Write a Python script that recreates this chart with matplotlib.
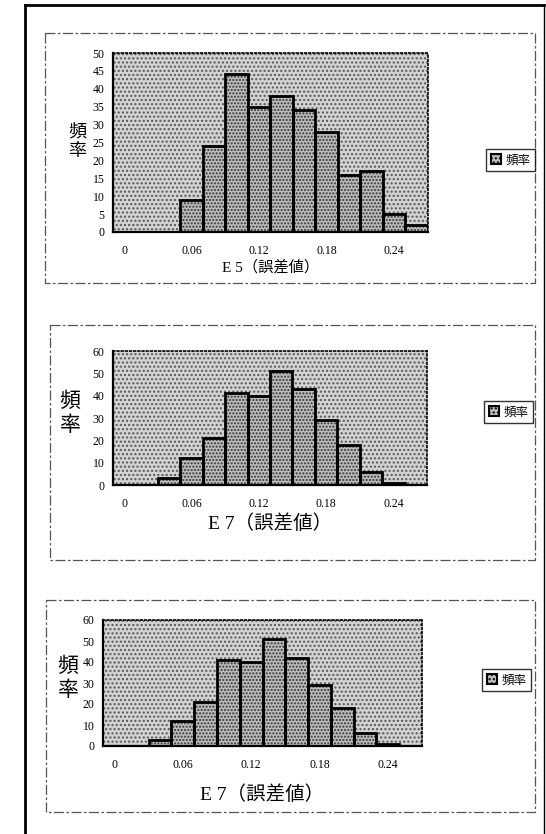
import matplotlib.pyplot as plt
from matplotlib.patches import Rectangle, Patch
from matplotlib.lines import Line2D

W, H = 546, 834

# bins of the histograms (category axis, one bar per bin)
bins = ["0", "0.02", "0.04", "0.06", "0.08", "0.10", "0.12",
        "0.14", "0.16", "0.18", "0.20", "0.22", "0.24", "0.26"]
shown_ticks = ["0", "0.06", "0.12", "0.18", "0.24"]

e5_freq = [0, 0, 0, 9, 24, 44, 35, 38, 34, 28, 16, 17, 5, 2]
e7_freq = [0, 0, 3, 12, 21, 41, 40, 51, 43, 29, 18, 6, 1, 0]
e7b_freq = [0, 0, 3, 12, 21, 41, 40, 51, 42, 29, 18, 6, 1, 0]

ylabel = "頻\n率"
legend_label = "頻率"
xlabels = ["E 5（誤差値）", "E 7（誤差値）", "E 7（誤差値）"]

SERIF = ["Liberation Serif", "Noto Sans CJK JP", "DejaVu Sans"]
CJK = ["Noto Sans CJK JP", "DejaVu Sans"]


def fx(x):
    return x / W


def fy(y):
    return 1 - y / H


def draw_panel(fig, box, freq, ymax, ystep, xlabel, xl_size, ylab_xy, ylab_size, xl_y, leg_xy):
    x0, y0, x1, y1 = box
    ax = fig.add_axes([fx(x0), fy(y1), fx(x1) - fx(x0), (y1 - y0) / H])
    pos = list(range(len(bins)))

    # halftone background of the plot area
    ax.add_patch(Rectangle((0, 0), 1, 1, transform=ax.transAxes, facecolor="#d2d2d2",
                           edgecolor="#555555", hatch="....", linewidth=0, zorder=0))
    ax.bar(pos, freq, width=1.0, facecolor="#bcbcbc", edgecolor="#333333",
           hatch=".....", linewidth=0, zorder=2)
    ax.bar(pos, freq, width=1.0, fill=False, edgecolor="black", linewidth=2, zorder=3)

    ax.set_xlim(-0.5, len(bins) - 0.5)
    ax.set_ylim(0, ymax)
    ax.set_yticks(range(0, ymax + 1, ystep))
    ax.set_xticks([bins.index(t) for t in shown_ticks])
    ax.set_xticklabels(shown_ticks)
    ax.tick_params(length=0, labelsize=8.5)
    ax.tick_params(axis="x", pad=9)
    ax.tick_params(axis="y", pad=6)
    for lab in ax.get_xticklabels() + ax.get_yticklabels():
        lab.set_family(SERIF)

    for s in ["left", "bottom"]:
        ax.spines[s].set_linewidth(1.6)
        ax.spines[s].set_zorder(4)
    for s in ["top", "right"]:
        ax.spines[s].set_linestyle((0, (1, 1.5)))
        ax.spines[s].set_linewidth(1.2)

    fig.text(fx(ylab_xy[0]), fy(ylab_xy[1]), ylabel, family=CJK, fontsize=ylab_size,
             ha="center", va="center", linespacing=1.1)
    fig.text(fx((x0 + x1) / 2), fy(xl_y), xlabel, family=SERIF, fontsize=xl_size,
             ha="center", va="center")

    handle = Patch(facecolor="#bcbcbc", edgecolor="black", hatch="....", linewidth=1.5)
    leg = ax.legend([handle], [legend_label], loc="center left",
                    bbox_to_anchor=(fx(leg_xy[0]), fy(leg_xy[1])), bbox_transform=fig.transFigure,
                    frameon=True, fancybox=False, handlelength=0.8, handleheight=0.8,
                    handletextpad=0.4, borderpad=0.35, prop={"family": CJK, "size": 9})
    leg.get_frame().set_edgecolor("black")
    leg.get_frame().set_linewidth(1.0)
    return ax


fig = plt.figure(figsize=(W / 100, H / 100), dpi=100)

# page frame and panel frames, drawn in pixel coordinates
frame = fig.add_axes([0, 0, 1, 1], zorder=-1)
frame.set_xlim(0, W)
frame.set_ylim(H, 0)
frame.axis("off")
frame.add_line(Line2D([25, 25], [5, 834], color="black", linewidth=2))
frame.add_line(Line2D([25, 544], [5, 5], color="black", linewidth=2))
frame.add_line(Line2D([544, 544], [5, 834], color="black", linewidth=1))
for (a, b, c, d) in [(45, 33, 535, 283), (50, 325, 535, 560), (46, 600, 535, 812)]:
    frame.add_patch(Rectangle((a, b), c - a, d - b, fill=False, edgecolor="#555555",
                              linewidth=0.9, linestyle=(0, (8, 2, 2, 2))))

draw_panel(fig, (113, 53, 428, 232), e5_freq, 50, 5, xlabels[0], 11,
           (77, 141), 13, 267, (480, 160))
draw_panel(fig, (113, 351, 427, 485), e7_freq, 60, 10, xlabels[1], 14,
           (70, 413), 15, 524, (478, 412))
draw_panel(fig, (103, 620, 422, 746), e7b_freq, 60, 10, xlabels[2], 14,
           (68, 678), 15, 795, (476, 680))

fig.savefig("out.png", dpi=100)
